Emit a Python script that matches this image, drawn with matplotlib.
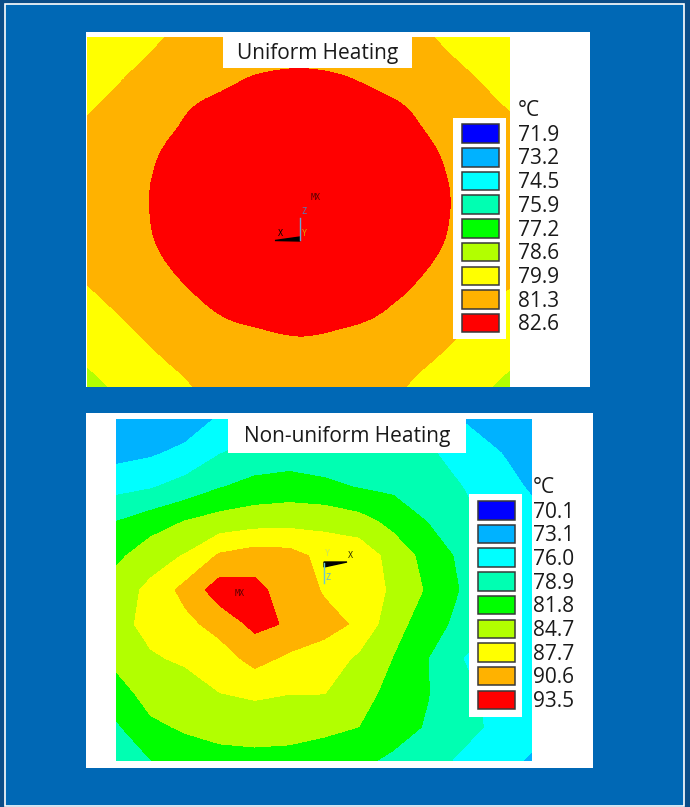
import numpy as np
import matplotlib.pyplot as plt
import matplotlib.tri as mtri
from matplotlib.patches import Rectangle, Polygon

plt.rcParams['font.family'] = ['Open Sans', 'DejaVu Sans']

# ANSYS legend colours (low -> high)
ansys_colors = ['#0000ff', '#00b2ff', '#00ffff', '#00ffb2', '#00ff00',
                '#b2ff00', '#ffff00', '#ffb200', '#ff0000']

# uniform heating: legend labels (deg C) and nodal temperatures
u_labels = ['71.9', '73.2', '74.5', '75.9', '77.2', '78.6', '79.9', '81.3', '82.6']
u_top = 83.9
u_temp = [
    [80.01, 80.59, 81.19, 81.64, 81.98, 82.21, 82.35, 82.22, 82.00, 81.66, 81.22, 80.64, 80.07],
    [80.59, 81.17, 81.66, 82.09, 82.42, 82.59, 82.63, 82.59, 82.43, 82.12, 81.69, 81.22, 80.64],
    [81.17, 81.64, 82.12, 82.59, 82.78, 82.92, 82.97, 82.93, 82.80, 82.61, 82.16, 81.69, 81.22],
    [81.60, 82.03, 82.50, 82.81, 83.05, 83.23, 83.31, 83.24, 83.07, 82.83, 82.52, 82.07, 81.64],
    [81.91, 82.28, 82.65, 82.95, 83.23, 83.50, 83.66, 83.52, 83.26, 82.97, 82.67, 82.30, 81.94],
    [82.00, 82.33, 82.67, 82.98, 83.27, 83.57, 83.80, 83.59, 83.30, 83.00, 82.69, 82.37, 82.03],
    [81.73, 82.13, 82.60, 82.88, 83.14, 83.36, 83.46, 83.37, 83.16, 82.90, 82.62, 82.17, 81.77],
    [81.34, 81.79, 82.29, 82.69, 82.90, 83.06, 83.12, 83.07, 82.92, 82.71, 82.31, 81.83, 81.38],
    [80.74, 81.31, 81.82, 82.29, 82.62, 82.73, 82.78, 82.74, 82.63, 82.31, 81.85, 81.36, 80.80],
    [80.14, 80.71, 81.31, 81.77, 82.12, 82.35, 82.46, 82.37, 82.15, 81.79, 81.34, 80.77, 80.19],
    [79.56, 80.11, 80.70, 81.29, 81.68, 81.97, 82.17, 81.99, 81.70, 81.32, 80.74, 80.17, 79.60],
]

# non-uniform heating
n_labels = ['70.1', '73.1', '76.0', '78.9', '81.8', '84.7', '87.7', '90.6', '93.5']
n_top = 96.4
n_temp = [
    [73.9, 73.8, 74.2, 76.4, 77.4, 77.4, 78.0, 77.4, 77.4, 77.7, 75.8, 74.2, 73.6],
    [75.0, 75.6, 76.8, 78.8, 80.0, 80.3, 80.3, 80.0, 80.0, 79.0, 78.6, 76.2, 74.5],
    [78.0, 78.7, 80.0, 81.7, 82.7, 83.1, 82.4, 81.7, 81.2, 80.0, 78.9, 77.1, 75.7],
    [81.8, 83.3, 84.8, 85.9, 86.5, 86.7, 86.8, 85.8, 83.8, 81.7, 80.3, 77.7, 76.8],
    [84.0, 86.4, 87.9, 91.0, 92.0, 91.7, 89.7, 89.7, 86.5, 83.6, 81.1, 78.3, 77.4],
    [86.2, 88.4, 91.5, 95.0, 94.4, 92.0, 90.4, 90.1, 87.0, 84.3, 81.5, 78.6, 77.4],
    [86.8, 88.5, 89.8, 91.7, 94.2, 93.2, 91.3, 90.3, 85.6, 83.4, 80.6, 78.6, 77.4],
    [85.5, 87.4, 88.1, 89.2, 91.6, 90.0, 89.7, 87.1, 84.6, 81.8, 78.9, 78.3, 77.4],
    [83.4, 85.9, 86.5, 87.7, 88.2, 87.8, 87.8, 85.8, 83.8, 81.9, 79.6, 78.0, 77.4],
    [81.4, 84.1, 85.1, 85.8, 86.0, 85.7, 85.3, 84.7, 83.1, 81.5, 79.8, 78.3, 76.8],
    [80.5, 81.7, 83.0, 83.6, 83.8, 83.8, 83.3, 82.4, 81.2, 79.9, 78.4, 76.8, 75.7],
]

W, H = 690, 807
fig = plt.figure(figsize=(6.9, 8.07), dpi=100)
fig.patch.set_facecolor('#0b4d88')


def px_axes(x0, y0, x1, y1):
    ax = fig.add_axes([x0 / W, 1 - y1 / H, (x1 - x0) / W, (y1 - y0) / H])
    return ax


# background, border, white panels
bg = px_axes(0, 0, W, H)
bg.set_xlim(0, W)
bg.set_ylim(H, 0)
bg.axis('off')
bg.add_patch(Rectangle((5, 4), 679, 802, facecolor='#0068b5', edgecolor='white', lw=1.2))
bg.add_patch(Rectangle((86, 32), 504, 355, facecolor='white', edgecolor='none'))
bg.add_patch(Rectangle((86, 413), 507, 355, facecolor='white', edgecolor='none'))


def contour_panel(box, temp, labels, top, smooth=False):
    ax = px_axes(*box)
    t = np.array(temp)
    xs = np.arange(t.shape[1])
    ys = np.arange(t.shape[0])
    levels = [float(v) for v in labels] + [top]
    if smooth:
        gx, gy = np.meshgrid(xs, ys)
        tri = mtri.Triangulation(gx.ravel(), gy.ravel())
        interp = mtri.CubicTriInterpolator(tri, t.ravel(), kind='min_E')
        tri_f, z_f = mtri.UniformTriRefiner(tri).refine_field(t.ravel(), triinterpolator=interp, subdiv=3)
        ax.tricontourf(tri_f, z_f, levels=levels, colors=ansys_colors, extend='both')
    else:
        ax.contourf(xs, ys, t, levels=levels, colors=ansys_colors, extend='both')
    ax.set_xlim(xs[0], xs[-1])
    ax.set_ylim(ys[-1], ys[0])
    ax.axis('off')
    return ax


contour_panel((87, 37, 510, 387), u_temp, u_labels, u_top, smooth=True)
contour_panel((116, 419, 532, 761), n_temp, n_labels, n_top)

# overlay: titles, legends, triads
ov = px_axes(0, 0, W, H)
ov.set_xlim(0, W)
ov.set_ylim(H, 0)
ov.axis('off')


def title_box(x0, y0, x1, y1, text, base):
    ov.add_patch(Rectangle((x0, y0), x1 - x0, y1 - y0, facecolor='white', edgecolor='none'))
    ov.text((x0 + x1) / 2, base, text, ha='center', va='baseline', fontsize=15, color='#1a1a1a')


def legend(box, sx, top, lx, labels):
    x0, y0, x1, y1 = box
    ov.add_patch(Rectangle((x0, y0), x1 - x0, y1 - y0, facecolor='white', edgecolor='none'))
    ov.text(lx, top - 8, '°C', ha='left', va='baseline', fontsize=15, color='#1a1a1a')
    for i, (lab, col) in enumerate(zip(labels, ansys_colors)):
        y = top + i * 23.7
        ov.add_patch(Rectangle((sx, y), 37, 18.5, facecolor=col, edgecolor='#383838', lw=1.1))
        ov.text(lx, y + 16.5, lab, ha='left', va='baseline', fontsize=15, color='#1a1a1a')


title_box(223, 37, 412, 68, 'Uniform Heating', 58.5)
title_box(228, 419, 466, 453, 'Non-uniform Heating', 442)
legend((453, 118, 506, 339), 462, 124.3, 518, u_labels)
legend((469, 494, 522, 717), 478, 501, 533, n_labels)

mono = dict(family='DejaVu Sans Mono', fontsize=6, ha='center', va='center')
# uniform triad
ov.text(316, 198, 'MX', color='#5a0000', **mono)
ov.plot([300, 300], [218, 240], color='#6aa6d6', lw=1)
ov.add_patch(Polygon([(275, 240.5), (300, 237), (300, 241)], closed=True, color='black'))
ov.text(304, 212, 'Z', color='#4f7fbf', **mono)
ov.text(280, 234, 'X', color='black', **mono)
ov.text(304, 234, 'Y', color='#e0a000', **mono)
# non-uniform triad
ov.text(240, 593, 'MX', color='#5a0000', **mono)
ov.plot([324, 324], [563, 583], color='#66c8d8', lw=1)
ov.add_patch(Polygon([(324, 562), (347, 562), (324, 567)], closed=True, color='black'))
ov.text(327, 554, 'Y', color='#c8e060', **mono)
ov.text(350, 555, 'X', color='#303000', **mono)
ov.text(328, 577, 'Z', color='#66b8c8', **mono)

fig.savefig('out.png', dpi=100, facecolor=fig.get_facecolor())
